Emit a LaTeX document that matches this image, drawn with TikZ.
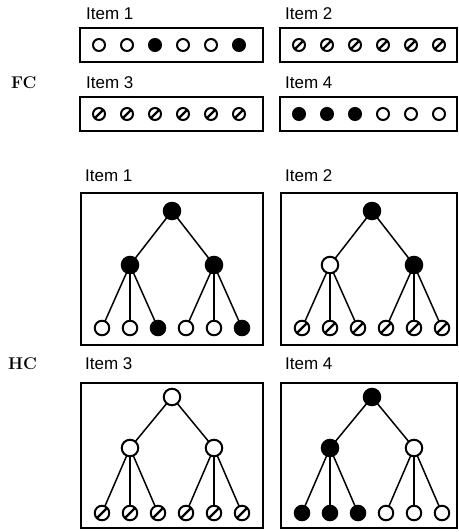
\documentclass[tikz,border=0pt]{standalone}
\usepackage{fontspec}
\setsansfont{Liberation Sans}
\usetikzlibrary{backgrounds}
\begin{document}
\begin{tikzpicture}[x=1pt,y=-1pt,
  panel/.style={draw,line width=2pt},
  itemlbl/.style={anchor=base west,inner sep=0pt,font=\sffamily\fontsize{17}{20}\selectfont},
  grouplbl/.style={anchor=base west,inner sep=0pt,font=\bfseries\fontsize{17}{20}\selectfont},
  dot/.style={circle,inner sep=0pt,line width=2pt},
  opn/.style={dot,draw,fill=white},
  fil/.style={dot,draw,fill=black},
  hat/.style={dot,draw,fill=white,path picture={
      \draw[line width=2.2pt] (path picture bounding box.south west) -- (path picture bounding box.north east);}},
  small/.style={minimum size=12pt},
  leaf/.style={minimum size=14.5pt},
  inner/.style={minimum size=16.5pt},
  edge/.style={line width=1.5pt}
]
\useasboundingbox (0,0) rectangle (458,532);

% ---------- FC ----------
\node[grouplbl] (fc) at (11,89) {FC};
\node[itemlbl] (fl1) at (86,19.5) {Item 1};
\node[itemlbl] (fl2) at (285,19.5) {Item 2};
\node[itemlbl] (fl3) at (86,89) {Item 3};
\node[itemlbl] (fl4) at (285,89) {Item 4};
\draw[panel] (80,28) rectangle (263,62);
\draw[panel] (280,28) rectangle (457,62);
\draw[panel] (80,97) rectangle (263,131);
\draw[panel] (280,97) rectangle (457,131);

% Item 1
\foreach \k/\s in {0/opn,1/opn,2/fil,3/opn,4/opn,5/fil}
  \node[\s,small] (fa\k) at (99+28*\k,45) {};
% Item 2
\foreach \k in {0,...,5}
  \node[hat,small] (fb\k) at (299+28*\k,45) {};
% Item 3
\foreach \k in {0,...,5}
  \node[hat,small] (fc\k) at (99+28*\k,114) {};
% Item 4
\foreach \k/\s in {0/fil,1/fil,2/fil,3/opn,4/opn,5/opn}
  \node[\s,small] (fd\k) at (299+28*\k,114) {};

% ---------- HC ----------
\node[grouplbl] (hc) at (8,369.5) {HC};
\node[itemlbl] (hl1) at (85,181) {Item 1};
\node[itemlbl] (hl2) at (285,181) {Item 2};
\node[itemlbl] (hl3) at (85,369.5) {Item 3};
\node[itemlbl] (hl4) at (285,369.5) {Item 4};
\draw[panel] (80.5,193) rectangle (263,345);
\draw[panel] (280.5,193) rectangle (457,345);
\draw[panel] (80.5,383) rectangle (263,528);
\draw[panel] (280.5,383) rectangle (457,528);

% tree: #1 prefix, #2 x offset, #3 root y, #4 mid y, #5 leaf y,
% #6 root style, #7 left/right mid styles, #8 leaf styles
\newcommand{\hctree}[8]{%
  \node[#6,inner] (#1r) at (172+#2,#3) {};
  \foreach \m/\s [count=\i from 0] in {#7}
    \node[\s,inner] (#1m\i) at (130+84*\i+#2,#4) {};
  \foreach \s [count=\i from 0] in {#8}
    \node[\s,leaf] (#1l\i) at (102+28*\i+#2,#5) {};
  \begin{scope}[on background layer]
    \draw[edge] (#1r.center) -- (#1m0.center) (#1r.center) -- (#1m1.center);
    \foreach \i in {0,1,2} \draw[edge] (#1m0.center) -- (#1l\i.center);
    \foreach \i in {3,4,5} \draw[edge] (#1m1.center) -- (#1l\i.center);
  \end{scope}}

\hctree{ta}{0}{211}{265}{328}{fil}{a/fil,b/fil}{opn,opn,fil,opn,opn,fil}
\hctree{tb}{200}{211}{265}{328}{fil}{a/opn,b/fil}{hat,hat,hat,hat,hat,hat}
\hctree{tc}{0}{397}{448}{513}{opn}{a/opn,b/opn}{hat,hat,hat,hat,hat,hat}
\hctree{td}{200}{397}{448}{513}{fil}{a/fil,b/opn}{fil,fil,fil,opn,opn,opn}
\end{tikzpicture}
\end{document}
